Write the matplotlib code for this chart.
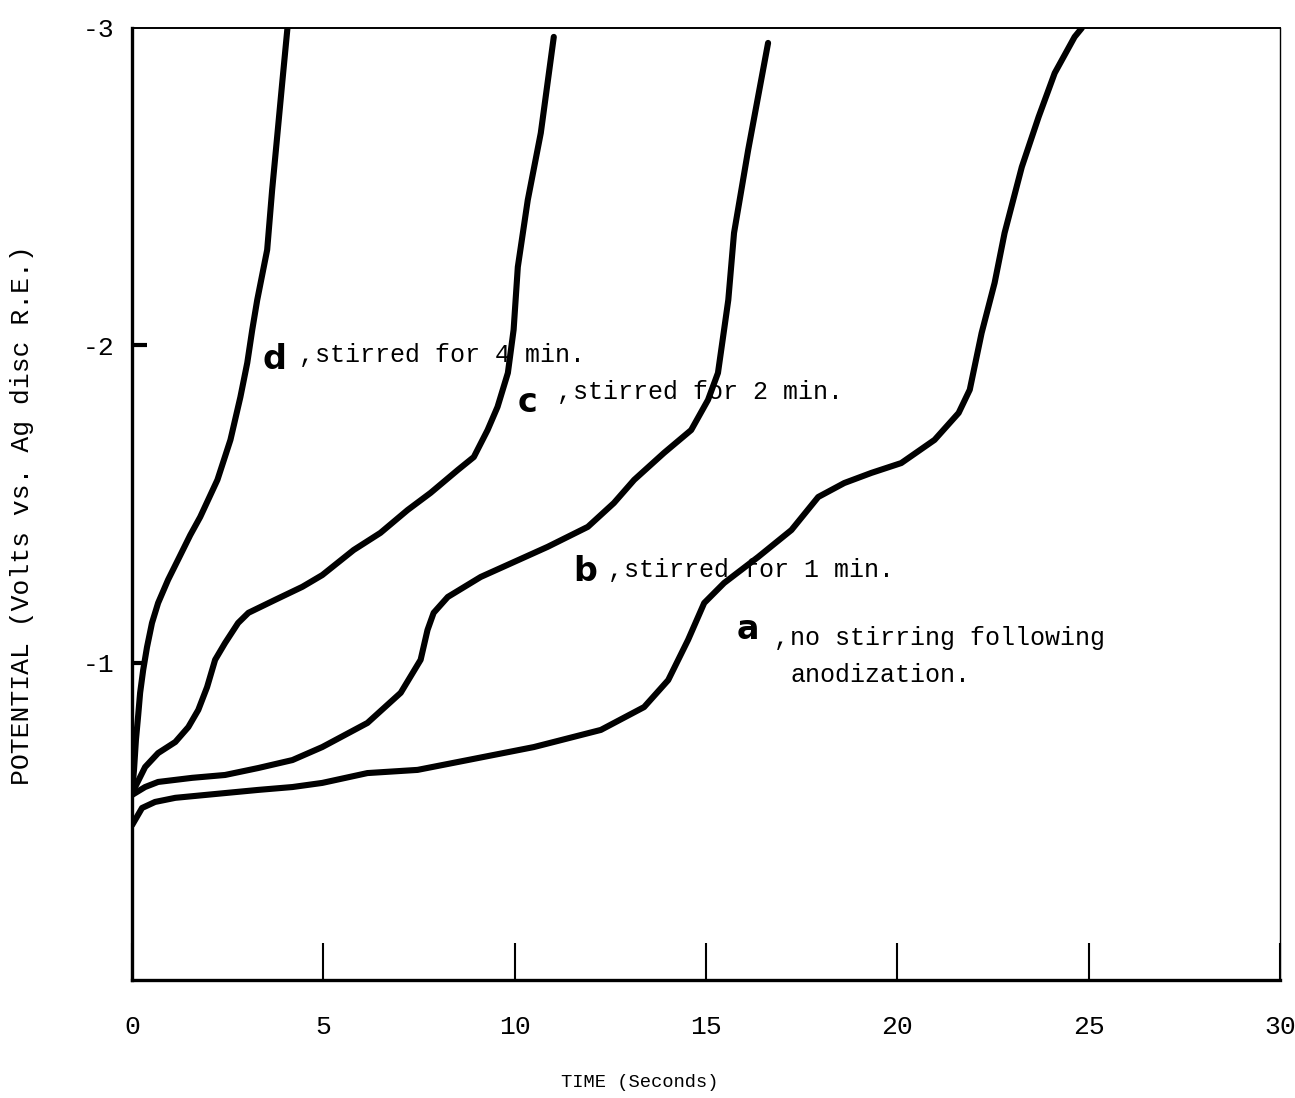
import matplotlib
matplotlib.use("Agg")
import matplotlib.pyplot as plt

# curve a, no stirring following anodization
a_time = [0.0, 0.26, 0.60, 1.13, 2.43, 3.30, 4.19, 4.97, 6.15, 7.46, 8.77, 10.50, 12.25,
          13.38, 14.01, 14.53, 14.95, 15.47, 16.36, 17.23, 17.93, 18.61, 19.32, 20.10,
          20.97, 21.60, 21.89, 22.20, 22.54, 22.80, 23.25, 23.69, 24.11, 24.63, 24.82]
a_pot = [-0.488, -0.542, -0.561, -0.574, -0.589, -0.599, -0.608, -0.621, -0.652, -0.662,
         -0.693, -0.734, -0.788, -0.860, -0.945, -1.072, -1.188, -1.251, -1.333, -1.418,
         -1.522, -1.566, -1.598, -1.629, -1.702, -1.787, -1.860, -2.039, -2.197, -2.354,
         -2.562, -2.720, -2.858, -2.972, -3.0]

# curve b, stirred for 1 min
b_time = [0.0, 0.08, 0.34, 0.68, 1.57, 2.43, 3.30, 4.19, 4.97, 6.15, 7.02, 7.54, 7.72,
          7.88, 8.25, 9.11, 10.86, 11.91, 12.59, 13.12, 13.90, 14.61, 15.05, 15.31, 15.47,
          15.58, 15.73, 16.10, 16.62]
b_pot = [-0.583, -0.589, -0.608, -0.624, -0.637, -0.646, -0.668, -0.693, -0.734, -0.810,
         -0.905, -1.009, -1.103, -1.157, -1.207, -1.270, -1.365, -1.428, -1.503, -1.576,
         -1.661, -1.733, -1.828, -1.913, -2.049, -2.143, -2.354, -2.616, -2.953]

# curve c, stirred for 2 min
c_time = [0.0, 0.08, 0.34, 0.68, 1.13, 1.47, 1.73, 1.96, 2.17, 2.43, 2.77, 3.04, 3.74,
          4.45, 4.97, 5.79, 6.49, 7.20, 7.80, 8.51, 8.93, 9.29, 9.55, 9.82, 9.97, 10.08,
          10.34, 10.68, 11.02]
c_pot = [-0.593, -0.608, -0.671, -0.715, -0.750, -0.797, -0.851, -0.923, -1.009, -1.062,
         -1.125, -1.157, -1.198, -1.239, -1.276, -1.355, -1.409, -1.481, -1.535, -1.607,
         -1.648, -1.733, -1.806, -1.913, -2.049, -2.247, -2.458, -2.669, -2.972]

# curve d, stirred for 4 min
d_time = [0.0, 0.05, 0.10, 0.16, 0.21, 0.29, 0.39, 0.52, 0.68, 0.94, 1.20, 1.52, 1.78,
          2.23, 2.57, 2.83, 3.01, 3.14, 3.27, 3.40, 3.53, 3.66, 3.80, 3.93, 4.06]
d_pot = [-0.593, -0.662, -0.756, -0.835, -0.905, -0.977, -1.049, -1.125, -1.188, -1.261,
         -1.324, -1.402, -1.459, -1.576, -1.702, -1.837, -1.945, -2.049, -2.143, -2.222,
         -2.301, -2.490, -2.669, -2.836, -3.0]

x_ticks = [0, 5, 10, 15, 20, 25, 30]
y_ticks = [-3, -2, -1]
y_marks = [-2, -1]

mono = "Liberation Mono"

fig = plt.figure(figsize=(12.95, 10.98), dpi=100)
ax = fig.add_axes([0.102, 0.1075, 0.8865, 0.867])

for t, p in [(a_time, a_pot), (b_time, b_pot), (c_time, c_pot), (d_time, d_pot)]:
    ax.plot(t, p, color="black", lw=4.4, solid_capstyle="round", solid_joinstyle="round")

ax.set_xlim(0, 30)
ax.set_ylim(0, -3)

ax.set_xticks(x_ticks)
ax.set_xticklabels([str(v) for v in x_ticks], fontfamily=mono, fontsize=19)
ax.set_yticks(y_ticks)
ax.set_yticklabels([str(v) for v in y_ticks], fontfamily=mono, fontsize=19)
ax.set_yticks(y_marks, minor=True)
ax.yaxis.remove_overlapping_locs = False
ax.tick_params(axis="x", direction="in", length=27, width=1.5, pad=25)
ax.tick_params(axis="y", which="major", direction="in", length=0, pad=13)
ax.tick_params(axis="y", which="minor", direction="in", length=11, width=3)

ax.spines["left"].set_linewidth(2.4)
ax.spines["bottom"].set_linewidth(2.4)
ax.spines["top"].set_linewidth(1.4)
ax.spines["right"].set_linewidth(1.0)

ax.set_xlabel("TIME (Seconds)", fontfamily=mono, fontsize=13.5)
ax.xaxis.set_label_coords(0.4425, -0.108)
ax.xaxis.label.set_va("center")
ax.set_ylabel("POTENTIAL (Volts vs. Ag disc R.E.)", fontfamily=mono, fontsize=19)
ax.yaxis.set_label_coords(-0.096, 0.488)
ax.yaxis.label.set_va("center")

# curve labels
letters = [("d", 3.40, -1.954), ("c", 10.08, -1.82), ("b", 11.52, -1.286), ("a", 15.81, -1.103)]
for s, x, y in letters:
    ax.text(x, y, s, fontfamily="DejaVu Sans", fontweight="bold", fontsize=24,
            ha="left", va="center")

notes = [("stirred for 4 min.", 4.79, -1.97),
         ("stirred for 2 min.", 11.52, -1.853),
         ("stirred for 1 min.", 12.85, -1.292),
         ("no stirring following", 17.20, -1.078),
         ("anodization.", 17.20, -0.961)]
for s, x, y in notes:
    ax.text(x, y, s, fontfamily=mono, fontsize=18, ha="left", va="center")

# commas between the letters and the notes
for s, x, y in notes[:4]:
    ax.text(x - 0.03, y, ",", fontfamily=mono, fontsize=18, ha="right", va="center")

plt.savefig("out.png")
